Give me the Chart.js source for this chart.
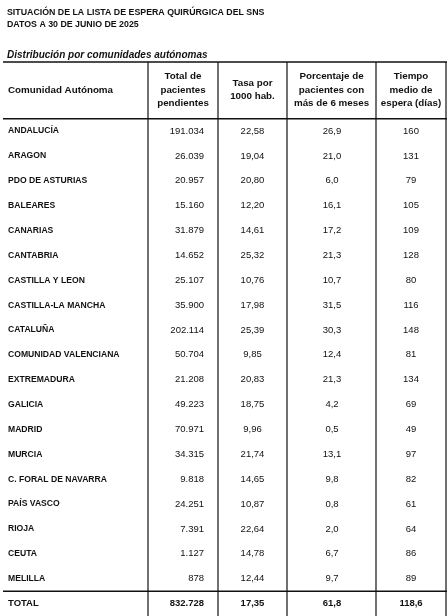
<!DOCTYPE html><html><head><meta charset="utf-8">
<script src="https://cdn.jsdelivr.net/npm/chart.js@4"></script>
<style>html,body{margin:0;padding:0;background:#fff}#w{width:448px;height:616px}</style></head><body><div id="w"><canvas id="c"></canvas></div>
<script>
const communities=["ANDALUCÍA","ARAGON","PDO DE ASTURIAS","BALEARES","CANARIAS","CANTABRIA","CASTILLA Y LEON","CASTILLA-LA MANCHA","CATALUÑA","COMUNIDAD VALENCIANA","EXTREMADURA","GALICIA","MADRID","MURCIA","C. FORAL DE NAVARRA","PAÍS VASCO","RIOJA","CEUTA","MELILLA","TOTAL"];
const pendientes=["191.034","26.039","20.957","15.160","31.879","14.652","25.107","35.900","202.114","50.704","21.208","49.223","70.971","34.315","9.818","24.251","7.391","1.127","878","832.728"];
const tasa=["22,58","19,04","20,80","12,20","14,61","25,32","10,76","17,98","25,39","9,85","20,83","18,75","9,96","21,74","14,65","10,87","22,64","14,78","12,44","17,35"];
const porcentaje=["26,9","21,0","6,0","16,1","17,2","21,3","10,7","31,5","30,3","12,4","21,3","4,2","0,5","13,1","9,8","0,8","2,0","6,7","9,7","61,8"];
const tiempo=["160","131","79","105","109","128","80","116","148","81","134","69","49","97","82","61","64","86","89","118,6"];
const headers=[["Comunidad Autónoma"],["Total de","pacientes","pendientes"],["Tasa por","1000 hab."],["Porcentaje de","pacientes con","más de 6 meses"],["Tiempo","medio de","espera (días)"]];
const F='"Liberation Sans", Arial, sans-serif';
const tablePlugin={id:'tbl',afterDraw(ch){
 const c=ch.ctx, y=ch.scales.y; c.save();
 c.fillStyle='#111';c.textBaseline='middle';
 c.font='bold 8.8px '+F;c.textAlign='left';
 c.fillText('SITUACIÓN DE LA LISTA DE ESPERA QUIRÚRGICA DEL SNS',7,13);
 c.fillText('DATOS A 30 DE JUNIO DE 2025',7,25);
 c.font='italic bold 10px '+F;c.fillText('Distribución por comunidades autónomas',7,55);
 c.strokeStyle='#111';
 const vx=[148,218,287,376,446];
 c.lineWidth=1.2;
 vx.forEach(x=>{c.beginPath();c.moveTo(x,62);c.lineTo(x,616);c.stroke();});
 c.lineWidth=1.5;
 c.beginPath();c.moveTo(3,62);c.lineTo(447,62);c.stroke();
 const total=communities.length-1;
 const hb=y.getPixelForValue(0)-12.4, tb=(y.getPixelForValue(total)+y.getPixelForValue(total-1))/2;
 [hb,tb].forEach(v=>{c.beginPath();c.moveTo(3,v);c.lineTo(447,v);c.stroke();});
 c.font='bold 9.8px '+F;
 const hc=[8,183,252.5,331.5,411];
 headers.forEach((h,i)=>{c.textAlign=i?'center':'left';const n=h.length;h.forEach((t,k)=>c.fillText(t,hc[i],90+(k-(n-1)/2)*13.5));});
 communities.forEach((name,i)=>{
  const py=y.getPixelForValue(i); const bold=i===total;
  c.font='bold '+(bold?9.5:8.6)+'px '+F;c.textAlign='left';c.fillText(name,8,py);
  c.font=(bold?'bold ':'')+'9.5px '+F;
  c.textAlign='right';c.fillText(pendientes[i],204,py);
  c.textAlign='center';c.fillText(tasa[i],252.5,py);c.fillText(porcentaje[i],332,py);c.fillText(tiempo[i],411,py);
 });
 c.restore();}};
new Chart(document.getElementById('c'),{type:'bar',data:{labels:communities,datasets:[{data:communities.map(()=>null)}]},
options:{responsive:true,maintainAspectRatio:false,animation:false,indexAxis:'y',
layout:{padding:{top:118.6,bottom:-0.4,left:0,right:0}},
plugins:{legend:{display:false},tooltip:{enabled:false}},
scales:{y:{display:false},x:{display:false,min:0,max:1}}},plugins:[tablePlugin]});
</script></body></html>
